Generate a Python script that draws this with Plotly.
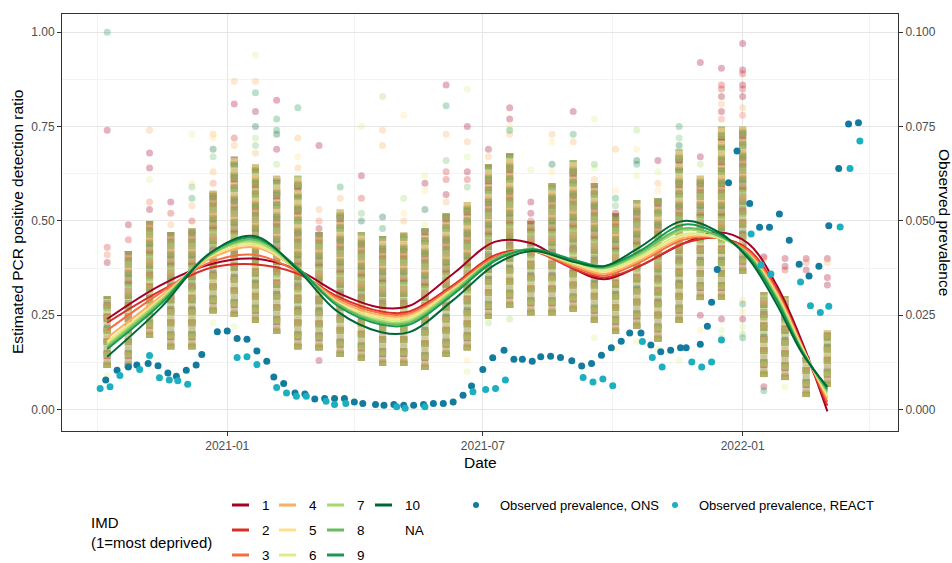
import plotly.graph_objects as go

# ---------------- data ----------------
IMD_LEVELS = ["1", "2", "3", "4", "5", "6", "7", "8", "9", "10"]
IMD_COLORS = ["#a50026", "#d73027", "#f46d43", "#fdae61", "#fee08b",
              "#d9ef8b", "#a6d96a", "#66bd63", "#1a9850", "#006837"]

# sampling dates of the per-area detection ratios (one column of points each)
col_dates = ["2020-10-08", "2020-10-23", "2020-11-07", "2020-11-22", "2020-12-07",
             "2020-12-22", "2021-01-06", "2021-01-21", "2021-02-05", "2021-02-20",
             "2021-03-07", "2021-03-22", "2021-04-06", "2021-04-21", "2021-05-06",
             "2021-05-21", "2021-06-05", "2021-06-20", "2021-07-05", "2021-07-20",
             "2021-08-04", "2021-08-19", "2021-09-03", "2021-09-18", "2021-10-03",
             "2021-10-18", "2021-11-02", "2021-11-17", "2021-12-02", "2021-12-17",
             "2022-01-01", "2022-01-16", "2022-01-31", "2022-02-15", "2022-03-02"]

# dense range of the ratios at each date
core_lo = [0.11, 0.11, 0.19, 0.16, 0.16, 0.255, 0.245, 0.23, 0.20, 0.16,
           0.157, 0.14, 0.13, 0.115, 0.115, 0.105, 0.14, 0.157, 0.24, 0.27,
           0.25, 0.25, 0.26, 0.23, 0.20, 0.215, 0.18, 0.23, 0.29, 0.29,
           0.36, 0.086, 0.078, 0.033, 0.06]
core_hi = [0.30, 0.42, 0.50, 0.47, 0.48, 0.58, 0.67, 0.65, 0.62, 0.62,
           0.47, 0.53, 0.47, 0.46, 0.47, 0.48, 0.52, 0.55, 0.65, 0.68,
           0.50, 0.60, 0.66, 0.60, 0.52, 0.555, 0.56, 0.69, 0.62, 0.75,
           0.75, 0.31, 0.30, 0.14, 0.21]

# isolated ratios outside the dense range: (date column, ratio, IMD decile)
outliers = [
    (0, 1.00, 9), (0, 0.74, 1), (0, 0.43, 2), (0, 0.41, 3), (0, 0.39, 1), (0, 0.09, 6),
    (1, 0.49, 1), (1, 0.45, 2),
    (2, 0.74, 4), (2, 0.68, 1), (2, 0.64, 1), (2, 0.61, 6), (2, 0.55, 3), (2, 0.53, 1),
    (3, 0.55, 1), (3, 0.52, 2), (3, 0.49, 4),
    (4, 0.73, 6), (4, 0.60, 5), (4, 0.59, 8), (4, 0.56, 9), (4, 0.54, 4), (4, 0.50, 2),
    (5, 0.73, 4), (5, 0.72, 5), (5, 0.69, 10), (5, 0.67, 8), (5, 0.63, 4), (5, 0.60, 3), (5, 0.23, 6),
    (6, 0.87, 4), (6, 0.81, 1), (6, 0.72, 2), (6, 0.70, 4), (6, 0.22, 6),
    (7, 0.94, 6), (7, 0.87, 4), (7, 0.84, 9), (7, 0.79, 1), (7, 0.75, 10), (7, 0.72, 7),
    (7, 0.70, 8), (7, 0.68, 4),
    (8, 0.82, 1), (8, 0.77, 9), (8, 0.74, 9), (8, 0.73, 10), (8, 0.69, 1), (8, 0.65, 7),
    (9, 0.80, 9), (9, 0.72, 4), (9, 0.67, 5), (9, 0.64, 4),
    (10, 0.70, 1), (10, 0.53, 4), (10, 0.50, 3), (10, 0.48, 1), (10, 0.13, 1),
    (11, 0.59, 9), (11, 0.56, 4),
    (12, 0.75, 6), (12, 0.62, 1), (12, 0.56, 2), (12, 0.52, 8), (12, 0.50, 10),
    (13, 0.83, 7), (13, 0.74, 4), (13, 0.70, 4), (13, 0.51, 10), (13, 0.48, 9),
    (14, 0.78, 5), (14, 0.56, 7), (14, 0.52, 5), (14, 0.50, 4),
    (15, 0.62, 6), (15, 0.60, 1), (15, 0.58, 5), (15, 0.53, 10), (15, 0.49, 6),
    (16, 0.86, 1), (16, 0.805, 9), (16, 0.73, 4), (16, 0.66, 8), (16, 0.63, 2),
    (16, 0.61, 2), (16, 0.57, 1), (16, 0.55, 4),
    (17, 0.85, 6), (17, 0.75, 1), (17, 0.71, 4), (17, 0.67, 6), (17, 0.63, 1),
    (17, 0.61, 2), (17, 0.59, 8), (17, 0.13, 5), (17, 0.10, 6),
    (18, 0.69, 1), (18, 0.67, 4), (18, 0.23, 7),
    (19, 0.80, 1), (19, 0.77, 1), (19, 0.75, 5), (19, 0.74, 9), (19, 0.73, 4), (19, 0.24, 7),
    (20, 0.635, 6), (20, 0.55, 1), (20, 0.52, 1), (20, 0.50, 2),
    (21, 0.73, 4), (21, 0.71, 5), (21, 0.65, 10), (21, 0.63, 5),
    (22, 0.79, 1), (22, 0.73, 9), (22, 0.71, 4),
    (23, 0.77, 6), (23, 0.65, 8), (23, 0.64, 6), (23, 0.61, 4), (23, 0.19, 6),
    (24, 0.69, 4), (24, 0.58, 5), (24, 0.56, 9), (24, 0.54, 8), (24, 0.52, 1), (24, 0.16, 5),
    (25, 0.74, 7), (25, 0.69, 5), (25, 0.66, 10), (25, 0.65, 9), (25, 0.62, 6), (25, 0.18, 6),
    (26, 0.66, 1), (26, 0.63, 6), (26, 0.60, 4), (26, 0.58, 5), (26, 0.16, 6),
    (27, 0.75, 9), (27, 0.72, 8), (27, 0.70, 10), (27, 0.13, 6),
    (28, 0.92, 1), (28, 0.67, 1), (28, 0.65, 7), (28, 0.25, 1), (28, 0.21, 5),
    (29, 0.905, 1), (29, 0.86, 2), (29, 0.85, 2), (29, 0.83, 1), (29, 0.81, 4),
    (29, 0.79, 1), (29, 0.77, 3), (29, 0.24, 1), (29, 0.21, 6), (29, 0.19, 7),
    (30, 0.97, 1), (30, 0.90, 1), (30, 0.89, 2), (30, 0.86, 1), (30, 0.85, 2),
    (30, 0.83, 1), (30, 0.80, 4), (30, 0.78, 3), (30, 0.29, 5), (30, 0.28, 9),
    (30, 0.26, 5), (30, 0.24, 1), (30, 0.22, 6), (30, 0.20, 7), (30, 0.19, 9),
    (31, 0.405, 1), (31, 0.40, 3), (31, 0.06, 1), (31, 0.05, 9),
    (32, 0.40, 1), (32, 0.38, 1), (32, 0.37, 2), (32, 0.06, 6),
    (33, 0.40, 1), (33, 0.39, 3), (33, 0.37, 1),
    (34, 0.40, 1), (34, 0.39, 4), (34, 0.35, 1), (34, 0.33, 1),
]

# smoothed trend per IMD decile, evaluated at these dates
trend_dates = ["2020-10-08", "2020-11-15", "2020-12-20", "2021-01-20", "2021-02-20",
               "2021-03-20", "2021-04-20", "2021-05-10", "2021-06-10", "2021-07-10",
               "2021-08-05", "2021-09-05", "2021-09-25", "2021-10-20", "2021-11-20",
               "2021-12-15", "2022-01-05", "2022-01-25", "2022-02-12", "2022-03-02"]
trend_1 = [0.24, 0.33, 0.385, 0.40, 0.37, 0.31, 0.27, 0.275, 0.36, 0.445,
           0.44, 0.37, 0.345, 0.38, 0.44, 0.47, 0.44, 0.33, 0.18, -0.005]
trend_2 = [0.23, 0.315, 0.375, 0.385, 0.36, 0.30, 0.26, 0.26, 0.33, 0.41,
           0.42, 0.37, 0.35, 0.38, 0.44, 0.455, 0.425, 0.32, 0.17, 0.01]
trend_3 = [0.21, 0.31, 0.39, 0.41, 0.365, 0.295, 0.255, 0.255, 0.325, 0.405,
           0.42, 0.375, 0.355, 0.39, 0.45, 0.455, 0.42, 0.315, 0.17, 0.02]
trend_4 = [0.19, 0.30, 0.40, 0.43, 0.37, 0.29, 0.25, 0.25, 0.32, 0.40,
           0.42, 0.38, 0.36, 0.395, 0.455, 0.455, 0.415, 0.31, 0.165, 0.03]
trend_5 = [0.18, 0.295, 0.405, 0.435, 0.37, 0.285, 0.245, 0.245, 0.32, 0.40,
           0.42, 0.385, 0.365, 0.40, 0.46, 0.455, 0.41, 0.305, 0.165, 0.035]
trend_6 = [0.175, 0.29, 0.41, 0.44, 0.37, 0.28, 0.24, 0.24, 0.315, 0.40,
           0.42, 0.385, 0.37, 0.405, 0.465, 0.455, 0.41, 0.30, 0.16, 0.04]
trend_7 = [0.17, 0.29, 0.41, 0.445, 0.37, 0.28, 0.235, 0.235, 0.315, 0.40,
           0.425, 0.39, 0.375, 0.41, 0.475, 0.46, 0.41, 0.30, 0.16, 0.045]
trend_8 = [0.165, 0.285, 0.41, 0.45, 0.375, 0.28, 0.23, 0.23, 0.31, 0.40,
           0.425, 0.39, 0.375, 0.415, 0.48, 0.46, 0.41, 0.295, 0.155, 0.05]
trend_9 = [0.16, 0.28, 0.415, 0.455, 0.375, 0.275, 0.225, 0.225, 0.305, 0.395,
           0.425, 0.395, 0.38, 0.42, 0.49, 0.465, 0.405, 0.29, 0.155, 0.055]
trend_10 = [0.14, 0.27, 0.415, 0.46, 0.37, 0.26, 0.205, 0.205, 0.29, 0.385,
            0.42, 0.39, 0.38, 0.43, 0.50, 0.47, 0.40, 0.28, 0.15, 0.06]
trends = [trend_1, trend_2, trend_3, trend_4, trend_5,
          trend_6, trend_7, trend_8, trend_9, trend_10]

# observed prevalence (secondary axis)
ons_dates = ["2020-10-07", "2020-10-15", "2020-10-23", "2020-10-29", "2020-11-06",
             "2020-11-13", "2020-11-20", "2020-11-26", "2020-12-03", "2020-12-10",
             "2020-12-14", "2020-12-25", "2021-01-01", "2021-01-08", "2021-01-15",
             "2021-01-22", "2021-01-29", "2021-02-03", "2021-02-10", "2021-02-18",
             "2021-02-25", "2021-03-04", "2021-03-11", "2021-03-18", "2021-03-25",
             "2021-04-01", "2021-04-07", "2021-04-16", "2021-04-22", "2021-04-29",
             "2021-05-06", "2021-05-13", "2021-05-20", "2021-05-27", "2021-06-03",
             "2021-06-10", "2021-06-17", "2021-06-23", "2021-07-01", "2021-07-08",
             "2021-07-16", "2021-07-23", "2021-07-29", "2021-08-05", "2021-08-11",
             "2021-08-18", "2021-08-25", "2021-09-02", "2021-09-09", "2021-09-16",
             "2021-09-23", "2021-09-30", "2021-10-07", "2021-10-13", "2021-10-21",
             "2021-10-28", "2021-11-04", "2021-11-11", "2021-11-18", "2021-11-22",
             "2021-12-02", "2021-12-07", "2021-12-10", "2021-12-14", "2021-12-22",
             "2021-12-28", "2022-01-06", "2022-01-13", "2022-01-20", "2022-01-27",
             "2022-02-03", "2022-02-10", "2022-02-17", "2022-02-24", "2022-03-03",
             "2022-03-10", "2022-03-17", "2022-03-24"]
ons_prev = [0.0078, 0.0104, 0.0113, 0.0118, 0.0122, 0.0116, 0.0097, 0.0088, 0.0104, 0.0118,
            0.0146, 0.0206, 0.0208, 0.0188, 0.0186, 0.0155, 0.0128, 0.0086, 0.0069, 0.0044,
            0.0041, 0.0028, 0.0029, 0.0029, 0.0029, 0.0020, 0.0016, 0.0013, 0.0011, 0.0013,
            0.0011, 0.0011, 0.0013, 0.0016, 0.0016, 0.0020, 0.0038, 0.0062, 0.0106, 0.0137,
            0.0157, 0.0133, 0.0133, 0.0128, 0.0140, 0.0141, 0.0138, 0.0129, 0.0115, 0.0122,
            0.0144, 0.0164, 0.0181, 0.0203, 0.0203, 0.0171, 0.0153, 0.0157, 0.0164, 0.0164,
            0.0173, 0.0221, 0.0284, 0.0371, 0.0601, 0.0685, 0.0546, 0.0483, 0.0483, 0.0518,
            0.0449, 0.0385, 0.0354, 0.0380, 0.0487, 0.0639, 0.0757, 0.0760]

react_dates = ["2020-10-03", "2020-10-10", "2020-10-17", "2020-10-31", "2020-11-07",
               "2020-11-14", "2020-11-21", "2020-11-27", "2020-12-04", "2021-01-08",
               "2021-01-15", "2021-01-22", "2021-02-05", "2021-02-12", "2021-02-19",
               "2021-02-26", "2021-03-12", "2021-03-18", "2021-03-26", "2021-05-01",
               "2021-05-07", "2021-05-21", "2021-06-24", "2021-07-03", "2021-07-10",
               "2021-07-17", "2021-09-10", "2021-09-17", "2021-09-24", "2021-10-01",
               "2021-10-22", "2021-10-29", "2021-11-05", "2021-11-26", "2021-12-03",
               "2021-12-10", "2021-12-17", "2022-01-07", "2022-01-14", "2022-01-21",
               "2022-02-11", "2022-02-18", "2022-02-25", "2022-03-03", "2022-03-11",
               "2022-03-18", "2022-03-25"]
react_prev = [0.0056, 0.0060, 0.0090, 0.0106, 0.0143, 0.0084, 0.0078, 0.0076, 0.0067, 0.0138,
              0.0140, 0.0119, 0.0058, 0.0044, 0.0035, 0.0035, 0.0022, 0.0013, 0.0016, 0.0007,
              0.0003, 0.0007, 0.0047, 0.0053, 0.0056, 0.0078, 0.0085, 0.0073, 0.0081, 0.0063,
              0.0180, 0.0138, 0.0113, 0.0126, 0.0113, 0.0126, 0.0184, 0.0465, 0.0383, 0.0359,
              0.0338, 0.0275, 0.0257, 0.0274, 0.0484, 0.0639, 0.0712]

ONS_COLOR = "#137c9e"
REACT_COLOR = "#1cafbf"

y_ticks = [0.0, 0.25, 0.5, 0.75, 1.0]
y_tick_text = ["0.00", "0.25", "0.50", "0.75", "1.00"]
y2_ticks = [0.0, 0.025, 0.05, 0.075, 0.1]
y2_tick_text = ["0.000", "0.025", "0.050", "0.075", "0.100"]
x_ticks = ["2021-01-01", "2021-07-01", "2022-01-01"]
x_tick_text = ["2021-01", "2021-07", "2022-01"]

# ---------------- layout geometry ----------------
W, H = 952, 563
M_L, M_R, M_T, M_B = 62, 54, 14, 132
PW, PH = W - M_L - M_R, H - M_T - M_B
Y_RANGE = [-0.057, 1.0485]
SEC_SCALE = 0.1
FONT = "Liberation Sans, Arial, sans-serif"

# stroke patterns that break each decile's column into irregular beads
BEAD_DASH = ["5px,4px,7px,9px", "6px,8px,4px,5px", "7px,6px,3px,7px", "4px,6px,6px,8px",
             "6px,5px,5px,9px", "3px,7px,8px,4px", "7px,4px,4px,8px", "5px,6px,7px,5px",
             "6px,7px,4px,6px", "5px,5px,8px,7px"]
# layering order of the deciles within a column (last drawn sits on top)
LAYER_ORDER = [9, 0, 8, 1, 4, 5, 2, 6, 3, 7]


def px_x(p):
    return (p - M_L) / PW


def px_y(p):
    return (H - M_B - p) / PH


def rgba(hex_color, a):
    h = hex_color.lstrip("#")
    r, g, b = int(h[0:2], 16), int(h[2:4], 16), int(h[4:6], 16)
    return f"rgba({r},{g},{b},{a})"


def column_path():
    xs, ys = [], []
    for d, lo, hi in zip(col_dates, core_lo, core_hi):
        xs += [d, d, None]
        ys += [lo, hi, None]
    return xs, ys


fig = go.Figure()
col_x, col_y = column_path()

# soft full-length wash of every decile's column
for k in LAYER_ORDER:
    fig.add_trace(go.Scatter(x=col_x, y=col_y, mode="lines",
                             line=dict(color=IMD_COLORS[k], width=7),
                             opacity=0.08, showlegend=False, hoverinfo="skip"))

# beaded translucent layer per decile
for k in LAYER_ORDER:
    fig.add_trace(go.Scatter(x=col_x, y=col_y, mode="lines",
                             line=dict(color=IMD_COLORS[k], width=7, dash=BEAD_DASH[k]),
                             opacity=0.3, showlegend=False, hoverinfo="skip"))

# isolated ratios
for k, col in enumerate(IMD_COLORS):
    pts = [(col_dates[c], v) for c, v, dec in outliers if dec == k + 1]
    if not pts:
        continue
    fig.add_trace(go.Scatter(x=[p[0] for p in pts], y=[p[1] for p in pts],
                             mode="markers",
                             marker=dict(size=7, color=rgba(col, 0.3), line=dict(width=0)),
                             showlegend=False, hoverinfo="skip"))

# smoothed trends
for k, col in enumerate(IMD_COLORS):
    fig.add_trace(go.Scatter(x=trend_dates, y=trends[k], mode="lines",
                             line=dict(color=col, width=2, shape="spline", smoothing=1.0),
                             name=IMD_LEVELS[k], showlegend=False))

# observed prevalence on the secondary axis
fig.add_trace(go.Scatter(x=ons_dates, y=ons_prev, mode="markers", yaxis="y2",
                         marker=dict(size=7, color=ONS_COLOR, line=dict(width=0)),
                         name="Observed prevalence, ONS", showlegend=False))
fig.add_trace(go.Scatter(x=react_dates, y=react_prev, mode="markers", yaxis="y2",
                         marker=dict(size=7, color=REACT_COLOR, line=dict(width=0)),
                         name="Observed prevalence, REACT", showlegend=False))

axis_common = dict(ticks="outside", ticklen=4, tickcolor="#333333", tickwidth=1,
                   showline=True, linecolor="#333333", linewidth=1, zeroline=False,
                   tickfont=dict(family=FONT, size=12, color="#4d4d4d"))

fig.update_layout(
    width=W, height=H,
    margin=dict(l=M_L, r=M_R, t=M_T, b=M_B),
    paper_bgcolor="white", plot_bgcolor="white",
    font=dict(family=FONT, color="black"),
    showlegend=False,
    xaxis=dict(type="date", range=["2020-09-06", "2022-04-21"],
               tickmode="array", tickvals=x_ticks, ticktext=x_tick_text,
               showgrid=True, gridcolor="#e6e6e6", gridwidth=1, mirror=True,
               minor=dict(tickmode="array",
                          tickvals=["2020-10-01", "2021-04-01", "2021-10-01", "2022-04-01"],
                          showgrid=True, gridcolor="#f3f3f3", ticks=""),
               **axis_common),
    yaxis=dict(range=Y_RANGE, tickmode="array", tickvals=y_ticks, ticktext=y_tick_text,
               showgrid=True, gridcolor="#e6e6e6", gridwidth=1, mirror=True,
               minor=dict(tickmode="array", tickvals=[0.125, 0.375, 0.625, 0.875],
                          showgrid=True, gridcolor="#f3f3f3", ticks=""),
               **axis_common),
    yaxis2=dict(overlaying="y", side="right",
                range=[Y_RANGE[0] * SEC_SCALE, Y_RANGE[1] * SEC_SCALE],
                tickmode="array", tickvals=y2_ticks, ticktext=y2_tick_text,
                showgrid=False, **axis_common),
)

annotations = [
    dict(text="Date", x=px_x(480), y=px_y(462), xref="paper", yref="paper",
         showarrow=False, font=dict(size=15.5, family=FONT, color="black"),
         xanchor="center", yanchor="middle"),
    dict(text="Estimated PCR positive detection ratio", x=px_x(17), y=px_y(222),
         xref="paper", yref="paper", textangle=-90, showarrow=False,
         font=dict(size=15.5, family=FONT, color="black"),
         xanchor="center", yanchor="middle"),
    dict(text="Observed prevalence", x=px_x(945), y=px_y(222),
         xref="paper", yref="paper", textangle=90, showarrow=False,
         font=dict(size=15.5, family=FONT, color="black"),
         xanchor="center", yanchor="middle"),
    dict(text="IMD<br>(1=most deprived)", x=px_x(89), y=px_y(532),
         xref="paper", yref="paper", showarrow=False, align="left",
         font=dict(size=15, family=FONT, color="black"),
         xanchor="left", yanchor="middle"),
]
shapes = []

# IMD legend, filled column by column
key_x = [232, 279, 327, 375]
row_y = [505, 530, 555]
legend_items = IMD_LEVELS + ["NA"]
for i, lab in enumerate(legend_items):
    c, r = divmod(i, 3)
    x0 = key_x[c]
    y0 = row_y[r]
    if lab != "NA":
        shapes.append(dict(type="line", xref="paper", yref="paper",
                           x0=px_x(x0), x1=px_x(x0 + 17), y0=px_y(y0), y1=px_y(y0),
                           line=dict(color=IMD_COLORS[i], width=3)))
    annotations.append(dict(text=lab, x=px_x(x0 + 28), y=px_y(y0), xref="paper",
                            yref="paper", showarrow=False, xanchor="left",
                            yanchor="middle",
                            font=dict(size=13.5, family=FONT, color="black")))

# prevalence legend
for cx, lab, col in [(476, "Observed prevalence, ONS", ONS_COLOR),
                     (675, "Observed prevalence, REACT", REACT_COLOR)]:
    shapes.append(dict(type="circle", xref="paper", yref="paper",
                       x0=px_x(cx - 3), x1=px_x(cx + 3), y0=px_y(505 - 3), y1=px_y(505 + 3),
                       fillcolor=col, line=dict(width=0)))
    annotations.append(dict(text=lab, x=px_x(cx + 22), y=px_y(505), xref="paper",
                            yref="paper", showarrow=False, xanchor="left",
                            yanchor="middle",
                            font=dict(size=13, family=FONT, color="black")))

fig.update_layout(annotations=annotations, shapes=shapes)
fig.write_html("out.html")
